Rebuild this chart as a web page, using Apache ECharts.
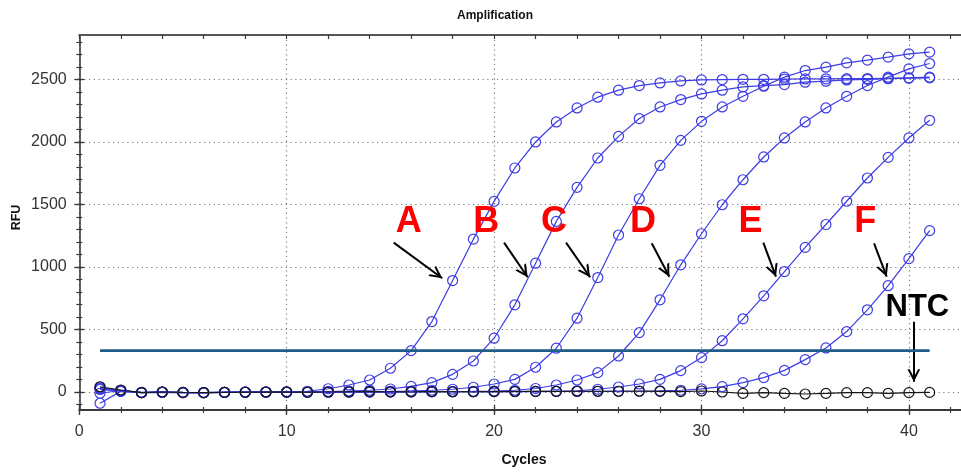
<!DOCTYPE html>
<html><head><meta charset="utf-8">
<script src="https://cdn.jsdelivr.net/npm/echarts@6/dist/echarts.min.js"></script>
<style>html,body{margin:0;padding:0;background:#fff}#c{width:961px;height:472px}</style>
</head><body><div id="c"></div>
<script>
// ---------------- data ----------------
const cycles = [1,2,3,4,5,6,7,8,9,10,11,12,13,14,15,16,17,18,19,20,21,22,23,24,25,26,27,28,29,30,31,32,33,34,35,36,37,38,39,40,41];
const seriesA = [-90,5,-5,-3,-5,-5,-3,0,0,2,6,26,56,96,190,331,563,891,1222,1524,1791,1999,2159,2271,2357,2413,2450,2471,2487,2495,2498,2500,2500,2502,2503,2504,2505,2506,2508,2510,2512];
const seriesB = [-10,12,-3,0,-4,-6,-2,-1,0,0,2,4,8,14,24,45,75,141,248,430,697,1030,1364,1636,1871,2044,2186,2279,2338,2383,2413,2439,2450,2458,2477,2485,2495,2500,2505,2511,2517];
const seriesC = [30,14,-5,-2,-6,-4,-3,-2,-1,0,0,1,2,3,5,8,14,22,38,64,101,198,350,590,915,1255,1545,1812,2012,2164,2279,2364,2445,2517,2570,2597,2631,2653,2677,2703,2717];
const seriesD = [38,10,-4,-1,-5,-5,-3,-1,0,-1,-1,0,0,1,1,2,3,4,5,8,14,28,56,96,155,288,475,737,1017,1265,1497,1697,1879,2031,2159,2271,2364,2450,2517,2583,2626];
const seriesE = [25,8,-5,-2,-4,-6,-4,-2,-1,-1,0,0,0,0,1,1,2,2,3,3,4,5,6,10,22,40,64,101,171,275,410,585,769,963,1156,1339,1525,1711,1876,2031,2172];
const seriesF = [20,6,-4,0,-3,-5,-2,-1,0,0,0,0,0,1,1,1,2,2,2,3,3,3,4,4,5,6,8,10,14,25,43,75,115,173,259,352,483,657,850,1066,1290];
const seriesNTC = [42,16,-5,0,-3,-5,-3,-2,0,-1,-2,0,2,3,2,2,3,2,2,3,4,5,5,6,6,6,6,5,3,8,0,-11,-5,-11,-16,-11,-5,-5,-11,-5,-3];
const thresholdValue = 331;
const thresholdCycles = [1, 41];
const xTickLabels = [0, 10, 20, 30, 40];
const yTickLabels = [0, 500, 1000, 1500, 2000, 2500];
// annotation labels [name, cycle, RFU]
const labelNames = ['A','B','C','D','E','F','NTC'];
const labelX = [15.89, 19.62, 22.89, 27.18, 32.36, 37.9, 40.41];
const labelY = [1355, 1355, 1355, 1355, 1355, 1355, 672];
// arrows: start [cycle,RFU] -> end [cycle,RFU]
const arrowStart = [[15.16,1194],[20.48,1194],[23.47,1194],[27.60,1189],[32.98,1194],[38.32,1189],[40.24,562]];
const arrowEnd   = [[17.50,909],[21.62,917],[24.63,917],[28.45,922],[33.59,922],[38.93,922],[40.24,82]];

// ---------------- layout ----------------
const W = 961, H = 472;
const L = 79.3, T = 35, B = 410;
const PXC = 20.74;      // px per cycle
const PXU = 0.12508;    // px per RFU
const Y0 = 392;         // px of RFU 0
const xMaxData = (W - L) / PXC;
const yMinData = -(B - Y0) / PXU;
const yMaxData = (Y0 - T) / PXU;
const pyOf = v => Y0 - v * PXU;
const xMajorMax = xTickLabels[xTickLabels.length - 1];
const yMajorMax = yTickLabels[yTickLabels.length - 1];

const BLUE = '#3c3ce4';
const AXIS = '#3a3a3a';
const TICKFONT = "'Liberation Sans',Arial,sans-serif";

const hiddenAxis = (gi) => ({gridIndex: gi, type: 'value', show: false, min: 0, max: 1});
const tickOnly = (extra) => Object.assign({
  type: 'value', axisLine: {show: false}, axisLabel: {show: false}, splitLine: {show: false},
  axisTick: {show: true, lineStyle: {color: AXIS, width: 1.3}}
}, extra);

const curveSeries = (name, vals, color) => ({
  name, type: 'line', xAxisIndex: 0, yAxisIndex: 0,
  data: cycles.map((c, i) => [c, vals[i]]),
  symbol: 'circle', symbolSize: 10, showAllSymbol: true,
  lineStyle: {color, width: 1.2},
  itemStyle: {color: 'rgba(255,255,255,0)', borderColor: color, borderWidth: 1.2},
  emphasis: {disabled: true}, silent: true, clip: false, z: 5
});

const arrowHead = 'path://M10,0 M10,12.5 L16.4,25 L14.15,25 L10,16.9 L5.85,25 L3.6,25 Z';

const option = {
  animation: false,
  backgroundColor: '#fff',
  grid: [
    {left: L, right: 0, top: T, bottom: H - B},
    {left: L, width: xMajorMax * PXC, top: T, bottom: H - B},
    {left: L, width: 42 * PXC, top: T, bottom: H - B},
    {left: L, right: 0, top: pyOf(yMajorMax), bottom: H - Y0},
    {left: L, right: 0, top: pyOf(2800), bottom: H - pyOf(-100)}
  ],
  xAxis: [
    {gridIndex: 0, type: 'value', min: 0, max: xMaxData, position: 'bottom',
     axisLine: {show: true, onZero: false, lineStyle: {color: AXIS, width: 2}},
     axisTick: {show: false}, axisLabel: {show: false}, splitLine: {show: false}},
    {gridIndex: 0, type: 'value', min: 0, max: xMaxData, position: 'top',
     axisLine: {show: true, onZero: false, lineStyle: {color: '#555', width: 2}},
     axisTick: {show: false}, axisLabel: {show: false}, splitLine: {show: false}},
    {gridIndex: 1, type: 'value', min: 0, max: xMajorMax, interval: 10, position: 'bottom',
     axisLine: {show: false, onZero: false},
     axisTick: {show: true, length: 5, lineStyle: {color: AXIS, width: 1.3}},
     axisLabel: {show: true, margin: 14, color: '#333', fontSize: 16, fontFamily: TICKFONT, formatter: v => String(v)},
     splitLine: {show: true, lineStyle: {color: '#777', width: 1.2, type: [1.2, 3.6]}}},
    tickOnly({gridIndex: 1, min: 0, max: xMajorMax, interval: 10, position: 'bottom', axisLine: {show: false, onZero: false},
      axisTick: {show: true, inside: true, length: 5, lineStyle: {color: AXIS, width: 1.3}}}),
    tickOnly({gridIndex: 2, min: 0, max: 42, interval: 2, position: 'bottom', axisLine: {show: false, onZero: false},
      axisTick: {show: true, length: 3, lineStyle: {color: AXIS, width: 1.2}}}),
    tickOnly({gridIndex: 2, min: 0, max: 42, interval: 2, position: 'bottom', axisLine: {show: false, onZero: false},
      axisTick: {show: true, inside: true, length: 3, lineStyle: {color: AXIS, width: 1.2}}}),
    tickOnly({gridIndex: 2, min: 0, max: 42, interval: 2, position: 'top', axisLine: {show: false, onZero: false},
      axisTick: {show: true, inside: true, length: 4, lineStyle: {color: AXIS, width: 1.2}}}),
    hiddenAxis(3),
    hiddenAxis(4)
  ],
  yAxis: [
    {gridIndex: 0, type: 'value', min: yMinData, max: yMaxData, position: 'left',
     axisLine: {show: true, onZero: false, lineStyle: {color: AXIS, width: 1.6}},
     axisTick: {show: false}, axisLabel: {show: false}, splitLine: {show: false}},
    hiddenAxis(1),
    hiddenAxis(2),
    {gridIndex: 3, type: 'value', min: 0, max: yMajorMax, interval: 500, position: 'left',
     axisLine: {show: false, onZero: false},
     axisTick: {show: true, length: 5, lineStyle: {color: AXIS, width: 1.3}},
     axisLabel: {show: true, margin: 12.6, color: '#333', fontSize: 16, fontFamily: TICKFONT, formatter: v => String(v)},
     splitLine: {show: true, lineStyle: {color: '#777', width: 1.2, type: [1.2, 3.6]}}},
    tickOnly({gridIndex: 3, min: 0, max: yMajorMax, interval: 500, position: 'left', axisLine: {show: false, onZero: false},
      axisTick: {show: true, inside: true, length: 5, lineStyle: {color: AXIS, width: 1.3}}}),
    tickOnly({gridIndex: 4, min: -100, max: 2800, interval: 100, position: 'left', axisLine: {show: false, onZero: false},
      axisTick: {show: true, length: 3, lineStyle: {color: AXIS, width: 1.2}}}),
    tickOnly({gridIndex: 4, min: -100, max: 2800, interval: 100, position: 'left', axisLine: {show: false, onZero: false},
      axisTick: {show: true, inside: true, length: 3, lineStyle: {color: AXIS, width: 1.2}}})
  ],
  graphic: [
    {type: 'text', x: 495, y: 16, silent: true,
     style: {text: 'Amplification', font: 'bold 12px "Liberation Sans", Arial, sans-serif', fill: '#111', align: 'center', verticalAlign: 'middle'}},
    {type: 'text', x: 524, y: 460, silent: true,
     style: {text: 'Cycles', font: 'bold 14px "Liberation Sans", Arial, sans-serif', fill: '#111', align: 'center', verticalAlign: 'middle'}},
    {type: 'text', x: 16.7, y: 217.5, rotation: Math.PI / 2, silent: true,
     style: {text: 'RFU', font: 'bold 12.5px "Liberation Sans", Arial, sans-serif', fill: '#111', align: 'center', verticalAlign: 'middle'}}
  ],
  series: [
    curveSeries('A', seriesA, BLUE),
    curveSeries('B', seriesB, BLUE),
    curveSeries('C', seriesC, BLUE),
    curveSeries('D', seriesD, BLUE),
    curveSeries('E', seriesE, BLUE),
    curveSeries('F', seriesF, BLUE),
    {
      name: 'Threshold', type: 'line', xAxisIndex: 0, yAxisIndex: 0,
      data: thresholdCycles.map(c => [c, thresholdValue]),
      symbol: 'none', lineStyle: {color: '#1f5c88', width: 2.6}, silent: true, z: 6
    },
    curveSeries('NTC', seriesNTC, '#151515'),
    {
      name: 'annotations', type: 'scatter', xAxisIndex: 0, yAxisIndex: 0,
      symbolSize: 0, silent: true, z: 10,
      itemStyle: {opacity: 1},
      data: labelNames.map((n, i) => ({
        value: [labelX[i], labelY[i]],
        label: {
          show: true, position: 'inside', formatter: n, opacity: 1,
          color: n === 'NTC' ? '#000000' : '#ff0000',
          textBorderWidth: 0,
          fontSize: n === 'NTC' ? 31 : 36, fontWeight: 'bold',
          fontFamily: '"Liberation Sans", Arial, sans-serif'
        }
      })),
      markLine: {
        silent: true, animation: false,
        symbol: ['none', arrowHead], symbolSize: [12.8, 25],
        label: {show: false},
        lineStyle: {color: '#000', width: 2, type: 'solid', opacity: 1},
        emphasis: {disabled: true},
        data: arrowStart.map((s, i) => [{coord: s}, {coord: arrowEnd[i]}])
      }
    }
  ]
};

const chart = echarts.init(document.getElementById('c'), null, {renderer: 'canvas'});
chart.setOption(option);
</script>
</body></html>
